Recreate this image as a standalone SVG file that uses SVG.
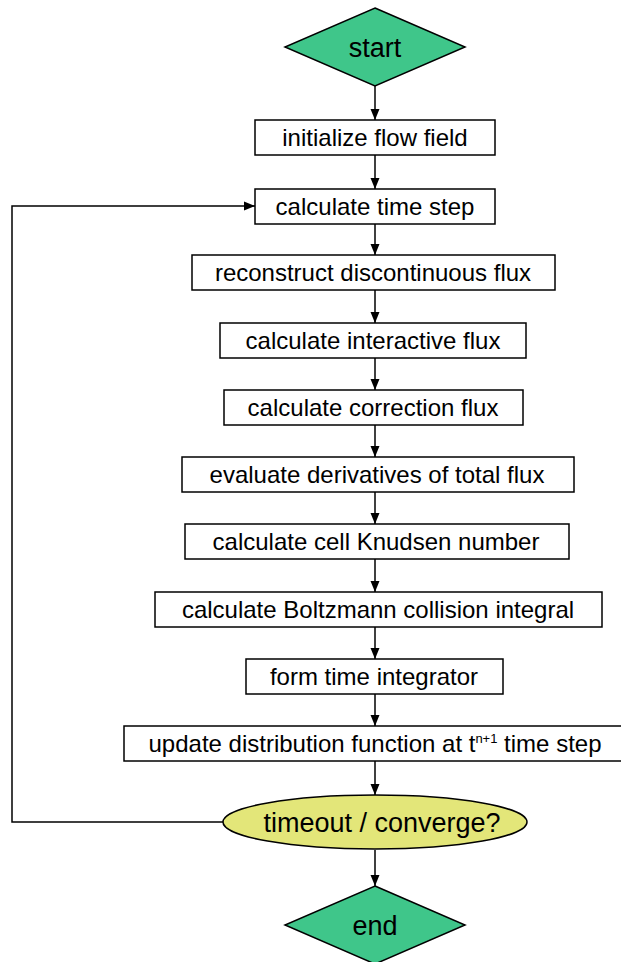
<svg xmlns="http://www.w3.org/2000/svg" width="621" height="962" viewBox="0 0 621 962">
<style>
.box{fill:#fff;stroke:#000;stroke-width:1.5}
.dia{fill:#3fc68a;stroke:#000;stroke-width:1.5}
.ell{fill:#e3e679;stroke:#000;stroke-width:1.5}
.t{font-family:"Liberation Sans",Arial,sans-serif;font-size:24px;fill:#000;text-anchor:middle}
.tb{font-family:"Liberation Sans",Arial,sans-serif;font-size:27px;fill:#000;text-anchor:middle}
.c{fill:none;stroke:#000;stroke-width:1.5}
</style>
<defs>
<marker id="ah" markerUnits="userSpaceOnUse" markerWidth="12" markerHeight="10" refX="11" refY="5" orient="auto">
<path d="M0,0.5 L11,5 L0,9.5 z" fill="#000"/>
</marker>
</defs>
<g id="connectors">
<line class="c" x1="375" y1="86" x2="375" y2="120" marker-end="url(#ah)"/>
<line class="c" x1="375" y1="155" x2="375" y2="189" marker-end="url(#ah)"/>
<line class="c" x1="375" y1="224" x2="375" y2="255" marker-end="url(#ah)"/>
<line class="c" x1="375" y1="290" x2="375" y2="323" marker-end="url(#ah)"/>
<line class="c" x1="375" y1="358" x2="375" y2="390" marker-end="url(#ah)"/>
<line class="c" x1="375" y1="425" x2="375" y2="457" marker-end="url(#ah)"/>
<line class="c" x1="375" y1="492" x2="375" y2="524" marker-end="url(#ah)"/>
<line class="c" x1="375" y1="559" x2="375" y2="592" marker-end="url(#ah)"/>
<line class="c" x1="375" y1="627" x2="375" y2="659" marker-end="url(#ah)"/>
<line class="c" x1="375" y1="694" x2="375" y2="726" marker-end="url(#ah)"/>
<line class="c" x1="375" y1="761" x2="375" y2="795" marker-end="url(#ah)"/>
<line class="c" x1="375" y1="850" x2="375" y2="886" marker-end="url(#ah)"/>
<polyline class="c" points="223,822 12,822 12,206 255,206" marker-end="url(#ah)"/>
</g>
<g id="start"><polygon class="dia" points="375,8 465,47 375,86 285,47"/><text class="tb" x="375" y="56.5">start</text></g>
<g id="n1"><rect class="box" x="255" y="120" width="240" height="35"/><text class="t" x="375" y="146">initialize flow field</text></g>
<g id="n2"><rect class="box" x="255" y="189" width="240" height="35"/><text class="t" x="375" y="215">calculate time step</text></g>
<g id="n3"><rect class="box" x="192" y="255" width="363" height="35"/><text class="t" x="373" y="281">reconstruct discontinuous flux</text></g>
<g id="n4"><rect class="box" x="220" y="323" width="306" height="35"/><text class="t" x="373" y="349">calculate interactive flux</text></g>
<g id="n5"><rect class="box" x="224" y="390" width="299" height="35"/><text class="t" x="373" y="416">calculate correction flux</text></g>
<g id="n6"><rect class="box" x="182" y="457" width="392" height="35"/><text class="t" x="377" y="483">evaluate derivatives of total flux</text></g>
<g id="n7"><rect class="box" x="185" y="524" width="384" height="35"/><text class="t" x="376" y="550">calculate cell Knudsen number</text></g>
<g id="n8"><rect class="box" x="155" y="592" width="447" height="35"/><text class="t" x="378" y="618">calculate Boltzmann collision integral</text></g>
<g id="n9"><rect class="box" x="246" y="659" width="257" height="35"/><text class="t" x="374" y="685">form time integrator</text></g>
<g id="n10"><rect class="box" x="124" y="726" width="500" height="35"/><text class="t" x="375" y="752">update distribution function at t<tspan font-size="13" dy="-9">n+1</tspan><tspan dy="9"> time step</tspan></text></g>
<g id="dec"><ellipse class="ell" cx="375" cy="822" rx="152" ry="27"/><text class="tb" x="382" y="831.5">timeout / converge?</text></g>
<g id="end"><polygon class="dia" points="375,886 465,925 375,964 285,925"/><text class="tb" x="375" y="934.5">end</text></g>
</svg>
